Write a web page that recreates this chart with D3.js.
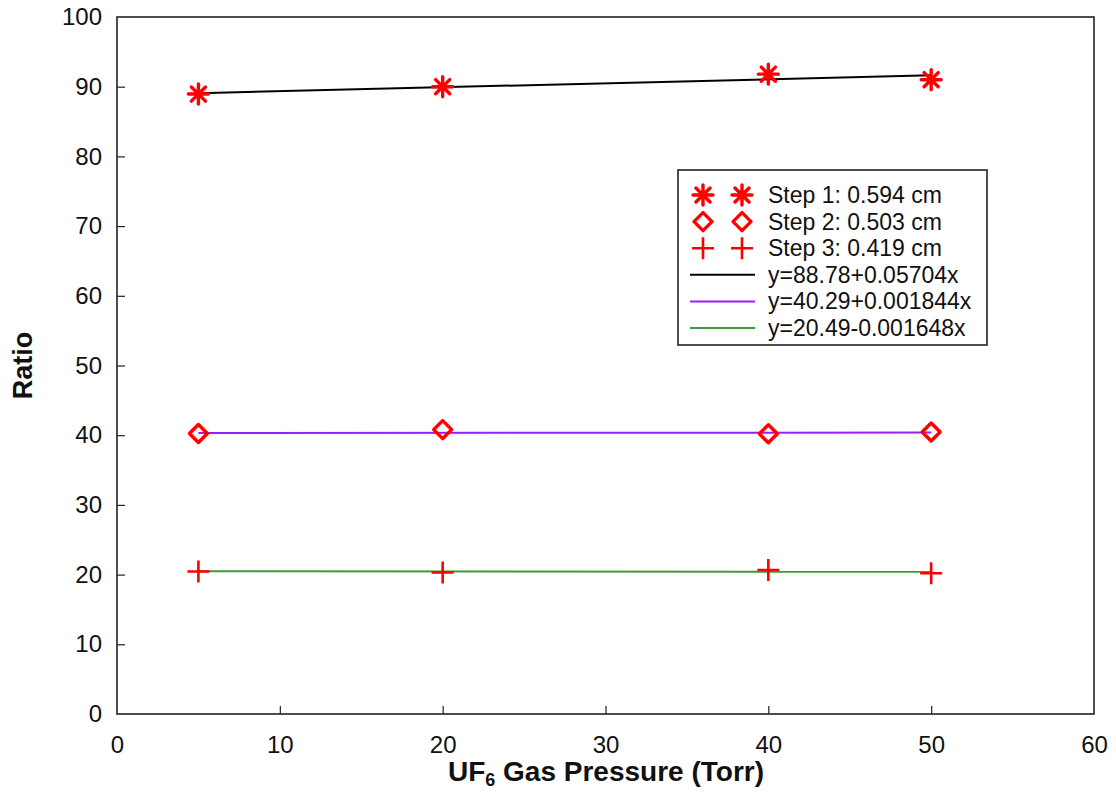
<!DOCTYPE html>
<html>
<head>
<meta charset="utf-8">
<script src="https://cdn.jsdelivr.net/npm/d3@7"></script>
<style>
  body { margin: 0; background: #fff; }
  text { font-family: "Liberation Sans", Arial, sans-serif; }
</style>
</head>
<body>
<svg id="chart" width="1116" height="793"></svg>
<script>
// ---- data ----
const pressures = [5, 20, 40, 50];
const step1 = [88.95, 90.0, 91.8, 91.0];
const step2 = [40.25, 40.8, 40.2, 40.45];
const step3 = [20.45, 20.3, 20.65, 20.2];
const seriesNames = ["Step 1: 0.594 cm", "Step 2: 0.503 cm", "Step 3: 0.419 cm"];
const fitNames = ["y=88.78+0.05704x", "y=40.29+0.001844x", "y=20.49-0.001648x"];
const fitIntercepts = [88.78, 40.29, 20.49];
const fitSlopes = [0.05704, 0.001844, -0.001648];
const fitColors = ["#000000", "#9b1dff", "#3c9a3c"];
const xTicks = [0, 10, 20, 30, 40, 50, 60];
const yTicks = [0, 10, 20, 30, 40, 50, 60, 70, 80, 90, 100];
const xLabelMain = "UF";
const xLabelSub = "6";
const xLabelRest = " Gas Pressure (Torr)";
const yLabel = "Ratio";

// ---- layout ----
const svg = d3.select("#chart");
const L = 117, R = 1094, T = 17, B = 714;
const x = d3.scaleLinear().domain([0, 60]).range([L, R]);
const y = d3.scaleLinear().domain([0, 100]).range([B, T]);
const markerColor = "#ff0000";

// ticks (inward)
const xAxis = d3.axisBottom(x).tickValues(xTicks).tickSize(-8).tickPadding(14);
const yAxis = d3.axisLeft(y).tickValues(yTicks).tickSize(-8).tickPadding(15);
const gx = svg.append("g").attr("transform", `translate(0,${B})`).call(xAxis);
const gy = svg.append("g").attr("transform", `translate(${L},0)`).call(yAxis);
[gx, gy].forEach(g => {
  g.select(".domain").remove();
  g.selectAll(".tick line").attr("stroke", "#222").attr("stroke-width", 1.2);
  g.selectAll(".tick text").attr("font-size", 24).attr("fill", "#111")
    .attr("font-family", "'Liberation Sans', Arial, sans-serif");
});
gx.selectAll(".tick text").attr("y", 31).attr("dy", "0.35em");
gx.selectAll(".tick").filter(d => d === 0 || d === 60).select("line").remove();
gy.selectAll(".tick").filter(d => d === 0 || d === 100).select("line").remove();

// frame
svg.append("rect").attr("x", L).attr("y", T).attr("width", R - L).attr("height", B - T)
  .attr("fill", "none").attr("stroke", "#222").attr("stroke-width", 1.6);

// fit lines
const plot = svg.append("g");
fitIntercepts.forEach((a, i) => {
  const x0 = d3.min(pressures), x1 = d3.max(pressures);
  plot.append("line")
    .attr("x1", x(x0)).attr("y1", y(a + fitSlopes[i] * x0))
    .attr("x2", x(x1)).attr("y2", y(a + fitSlopes[i] * x1))
    .attr("stroke", fitColors[i]).attr("stroke-width", 2);
});

// marker drawers
function star(g, cx, cy, r) {
  const s = r * Math.SQRT1_2;
  const p = `M${cx - r},${cy}L${cx + r},${cy}M${cx},${cy - r}L${cx},${cy + r}` +
            `M${cx - s},${cy - s}L${cx + s},${cy + s}M${cx - s},${cy + s}L${cx + s},${cy - s}`;
  g.append("path").attr("d", p).attr("stroke", markerColor).attr("stroke-width", 3.4)
    .attr("fill", "none").attr("stroke-linecap", "round");
}
function diamond(g, cx, cy, r) {
  const p = `M${cx},${cy - r}L${cx + r},${cy}L${cx},${cy + r}L${cx - r},${cy}Z`;
  g.append("path").attr("d", p).attr("stroke", markerColor).attr("stroke-width", 3.4)
    .attr("fill", "none").attr("stroke-linejoin", "round");
}
function plus(g, cx, cy, r) {
  const p = `M${cx - r},${cy}L${cx + r},${cy}M${cx},${cy - r}L${cx},${cy + r}`;
  g.append("path").attr("d", p).attr("stroke", markerColor).attr("stroke-width", 2.6)
    .attr("fill", "none");
}
const drawers = [star, diamond, plus];
const sizes = [10, 9, 11];
[step1, step2, step3].forEach((vals, i) => {
  vals.forEach((v, j) => drawers[i](plot, x(pressures[j]), y(v), sizes[i]));
});

// legend
const lg = svg.append("g");
const lx = 678, ly = 170, lw = 309, lh = 175;
lg.append("rect").attr("x", lx).attr("y", ly).attr("width", lw).attr("height", lh)
  .attr("fill", "#fff").attr("stroke", "#222").attr("stroke-width", 1.6);
const rowY = i => ly + 25 + i * 26.6;
seriesNames.forEach((name, i) => {
  drawers[i](lg, 703, rowY(i), sizes[i]);
  drawers[i](lg, 742, rowY(i), sizes[i]);
  lg.append("text").attr("x", 768).attr("y", rowY(i)).attr("dy", "0.35em")
    .attr("font-size", 23).attr("fill", "#111").text(name);
});
fitNames.forEach((name, k) => {
  const i = k + 3;
  lg.append("line").attr("x1", 690).attr("x2", 755).attr("y1", rowY(i)).attr("y2", rowY(i))
    .attr("stroke", fitColors[k]).attr("stroke-width", 2);
  lg.append("text").attr("x", 768).attr("y", rowY(i)).attr("dy", "0.35em")
    .attr("font-size", 23).attr("fill", "#111").text(name);
});

// axis labels
const xl = svg.append("text").attr("x", 606).attr("y", 781)
  .attr("text-anchor", "middle").attr("font-size", 28).attr("font-weight", "bold").attr("fill", "#111");
xl.append("tspan").text(xLabelMain);
xl.append("tspan").attr("font-size", 18).attr("dy", 5).text(xLabelSub);
xl.append("tspan").attr("dy", -5).text(xLabelRest);

svg.append("text").attr("transform", `translate(32,${(T + B) / 2}) rotate(-90)`)
  .attr("text-anchor", "middle").attr("font-size", 27).attr("font-weight", "bold")
  .attr("fill", "#111").text(yLabel);
</script>
</body>
</html>
